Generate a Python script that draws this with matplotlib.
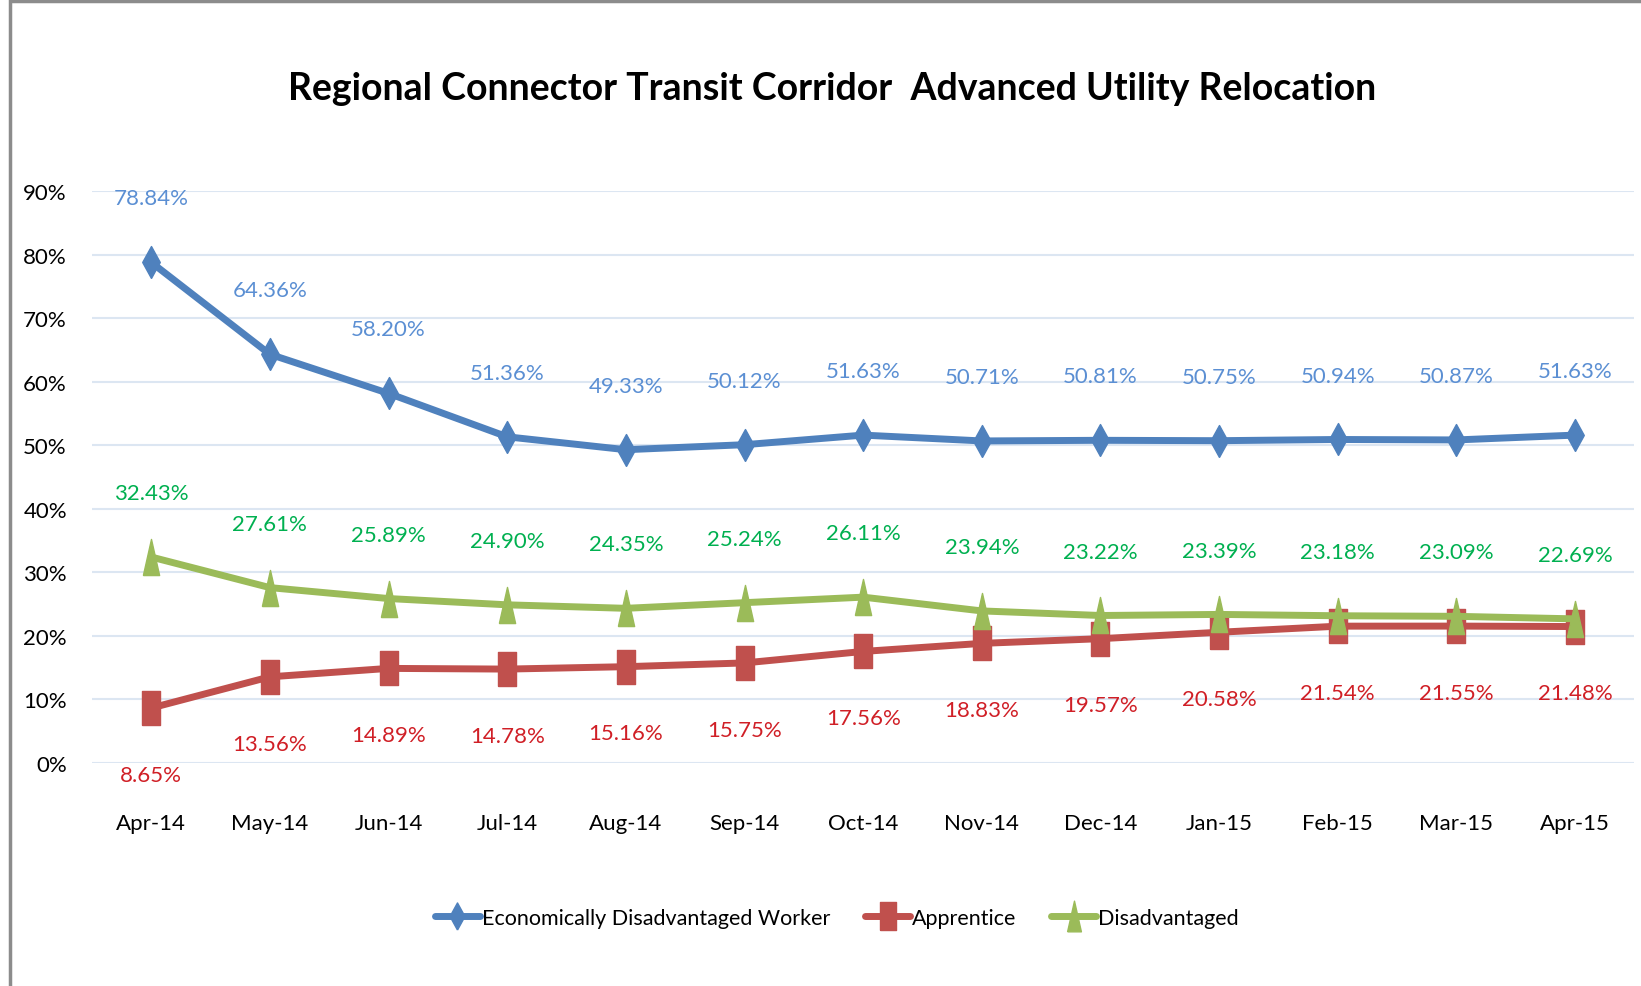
import matplotlib
matplotlib.use('Agg')
import matplotlib.pyplot as plt
from matplotlib.ticker import PercentFormatter
from matplotlib.patches import Rectangle

plt.rcParams['font.family'] = ['Lato', 'DejaVu Sans']

# data
months = ['Apr-14', 'May-14', 'Jun-14', 'Jul-14', 'Aug-14', 'Sep-14', 'Oct-14',
          'Nov-14', 'Dec-14', 'Jan-15', 'Feb-15', 'Mar-15', 'Apr-15']
econ_worker = [78.84, 64.36, 58.20, 51.36, 49.33, 50.12, 51.63,
               50.71, 50.81, 50.75, 50.94, 50.87, 51.63]
apprentice = [8.65, 13.56, 14.89, 14.78, 15.16, 15.75, 17.56,
              18.83, 19.57, 20.58, 21.54, 21.55, 21.48]
disadvantaged = [32.43, 27.61, 25.89, 24.90, 24.35, 25.24, 26.11,
                 23.94, 23.22, 23.39, 23.18, 23.09, 22.69]

# tall, narrow markers (the original chart is squeezed sideways)
diamond = [(0, -1), (0.55, 0), (0, 1), (-0.55, 0), (0, -1)]
square = [(-0.5, -0.9), (0.5, -0.9), (0.5, 0.9), (-0.5, 0.9), (-0.5, -0.9)]
triangle = [(-0.45, -1), (0.45, -1), (0, 1), (-0.45, -1)]

fig = plt.figure(figsize=(16.41, 9.87), dpi=100)
ax = fig.add_axes([0.056, 0.226, 0.94, 0.579])

x = list(range(len(months)))

# === Series ===
series = [
    ('Economically Disadvantaged Worker', econ_worker, '#4F81BD', diamond, 23, '#5B8FD3', 46),
    ('Apprentice', apprentice, '#C0504D', square, 24, '#D01F26', -48),
    ('Disadvantaged', disadvantaged, '#9BBB59', triangle, 26, '#00B050', 46),
]
for name, vals, col, mk, ms, lc, off in series:
    ax.plot(x, vals, color=col, lw=5, marker=mk, markersize=ms,
            label=name, solid_capstyle='round')
    for xi, v in zip(x, vals):
        ax.annotate(f'{v:.2f}%', (xi, v), xytext=(0, off), textcoords='offset points',
                    ha='center', va='center', fontsize=16, color=lc)

ax.set_xlim(-0.5, len(months) - 0.5)
ax.set_ylim(0, 90)
ax.set_yticks(range(0, 91, 10))
ax.yaxis.set_major_formatter(PercentFormatter(decimals=0))
ax.set_xticks(x)
ax.set_xticklabels(months)
ax.tick_params(axis='both', length=0, labelsize=16, colors='black')
ax.tick_params(axis='x', pad=36)
ax.tick_params(axis='y', pad=18)
ax.grid(axis='y', color='#DCE6F2', lw=1.5)
ax.set_axisbelow(True)
for s in ax.spines.values():
    s.set_visible(False)

fig.text(0.507, 0.91, 'Regional Connector Transit Corridor  Advanced Utility Relocation',
         ha='center', va='center', fontsize=27, fontweight='bold')

fig.legend(loc='center', bbox_to_anchor=(0.51, 0.069), ncol=3, frameon=False,
           fontsize=15.5, handlelength=2.1, handletextpad=0.1, columnspacing=1.6,
           markerscale=0.85)

# chart frame
fig.patches.append(Rectangle((0.006, -0.01), 1.2, 1.008, transform=fig.transFigure,
                             fill=False, ec='#8C8C8C', lw=2.5))

fig.savefig('out.png', dpi=100)
